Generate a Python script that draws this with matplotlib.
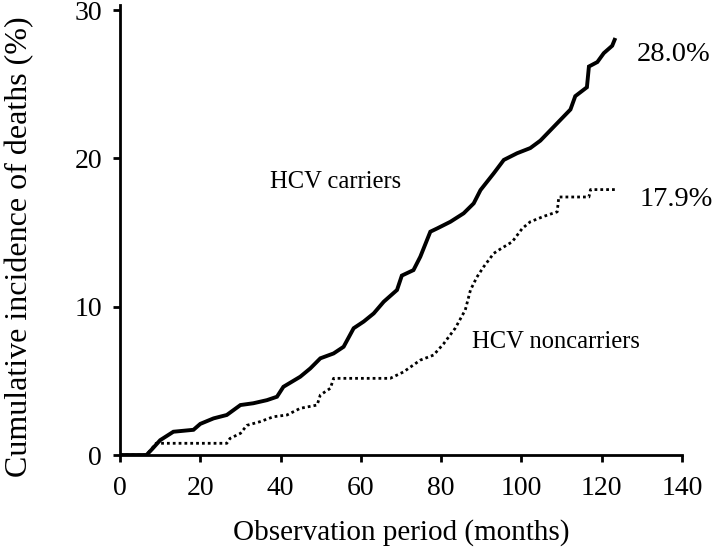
import matplotlib
matplotlib.use("Agg")
import matplotlib.pyplot as plt

plt.rcParams["font.family"] = ["Liberation Serif", "DejaVu Serif"]

carr_t = [0, 6.6, 8, 10, 13.3, 18.3, 20, 23.3, 26.6, 30, 33.2, 36.6, 39.1, 40.7, 44.9, 47.4,
          49.9, 53.2, 55.7, 58.2, 60.7, 63.2, 65.7, 69.0, 70.2, 73.1, 74.8, 77.3, 79.0, 82.3,
          85.6, 88.1, 89.8, 93.1, 95.6, 98.9, 102.2, 104.7, 107.2, 109.7, 112.2, 113.4, 116.3,
          116.8, 118.9, 120.5, 122.6, 123.2]
carr_y = [0, 0, 0.4, 1.0, 1.57, 1.7, 2.1, 2.47, 2.7, 3.37, 3.49, 3.7, 3.93, 4.6, 5.28, 5.84,
          6.52, 6.85, 7.3, 8.55, 9.0, 9.55, 10.34, 11.13, 12.1, 12.47, 13.37, 15.06, 15.28, 15.73,
          16.3, 16.97, 17.87, 19.0, 19.9, 20.35, 20.7, 21.2, 21.9, 22.6, 23.3, 24.2, 24.8,
          26.2, 26.5, 27.1, 27.6, 28.0]

non_t = [0, 6.6, 9, 26.6, 27.4, 30, 31.6, 34.9, 38.2, 41.6, 44.9, 49.1, 49.9, 52.4, 53.2,
         67.3, 70.6, 74.8, 78.1, 80.6, 83.5, 86.0, 87.3, 88.9, 90.6, 93.1, 94.8, 97.7, 100.2,
         102.2, 105.6, 108.9, 109.3, 116.8, 117.2, 123.4]
non_y = [0, 0, 0.79, 0.79, 1.12, 1.46, 2.0, 2.25, 2.58, 2.7, 3.15, 3.37, 4.05, 4.5, 5.17,
         5.17, 5.6, 6.4, 6.74, 7.5, 8.55, 9.78, 11.13, 12.0, 12.7, 13.6, 13.9, 14.38, 15.28,
         15.73, 16.1, 16.4, 17.4, 17.4, 17.9, 17.9]

x_ticks = [0, 20, 40, 60, 80, 100, 120, 140]
y_ticks = [0, 10, 20, 30]

fig = plt.figure(figsize=(7.16, 5.5), dpi=100)
ax = fig.add_axes([0.1676, 0.1727, 0.785, 0.818])

ax.plot(carr_t, carr_y, color="black", linewidth=2.8, solid_joinstyle="miter")
ax.plot(non_t, non_y, color="black", linewidth=2.0, linestyle=(0, (1, 1.1)))

ax.text(37.4, 18.4, "HCV carriers", fontsize=17.7, va="center", ha="left")
ax.text(87.7, 7.6, "HCV noncarriers", fontsize=17.7, va="center", ha="left")
ax.text(128.8, 27.0, "28.0%", fontsize=20.5, va="center", ha="left")
ax.text(129.5, 17.2, "17.9%", fontsize=20.5, va="center", ha="left")

ax.set_xlim(0, 140)
ax.set_ylim(0, 30.34)
ax.set_xticks(x_ticks)
ax.set_yticks(y_ticks)
ax.tick_params(labelsize=20, width=2, length=5, direction="out")
ax.tick_params(axis="x", pad=10)
ax.tick_params(axis="y", pad=8)
for s in ["top", "right"]:
    ax.spines[s].set_visible(False)
for s in ["left", "bottom"]:
    ax.spines[s].set_linewidth(2)
ax.set_xlabel("Observation period (months)", fontsize=21, labelpad=13)
ax.set_ylabel("Cumulative incidence of deaths (%)", fontsize=23)
ax.yaxis.set_label_coords(-0.152, 0.464)

fig.savefig("out.png", dpi=100)
